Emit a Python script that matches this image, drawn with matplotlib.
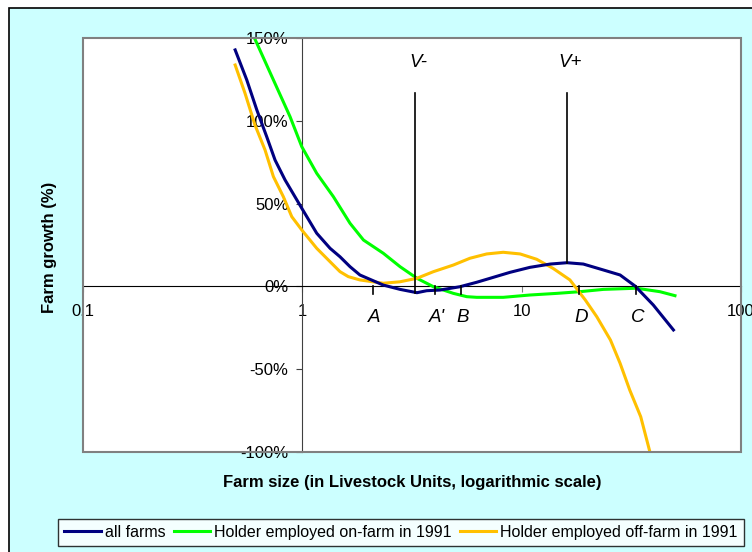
import numpy as np
import matplotlib
matplotlib.use("Agg")
import matplotlib.pyplot as plt
from matplotlib.patches import Rectangle
from matplotlib.ticker import FixedLocator, NullLocator

plt.rcParams['font.family'] = ['Liberation Sans', 'DejaVu Sans']

# farm size (LU) vs farm growth (%)
size_all = [0.494, 0.558, 0.620, 0.688, 0.751, 0.834, 0.994, 1.163, 1.338, 1.485, 1.65,
            1.83, 2.34, 2.79, 3.33, 3.69, 4.24, 5.23, 6.24, 7.18, 8.85, 10.9, 13.5,
            16.1, 19.1, 23.6, 28.1, 32.9, 39.8, 49.2]
growth_all = [142.8, 124.7, 106.6, 90.4, 76.3, 64.3, 47.2, 32.1, 23, 17.9, 11.9,
              6.9, 0.8, -1.8, -3.8, -2.6, -2.2, -0.2, 2.5, 4.9, 8.5, 11.5, 13.5,
              14.3, 13.5, 9.9, 6.9, 0.2, -11.2, -26.3]

size_on = [0.605, 0.738, 0.879, 0.994, 1.163, 1.385, 1.65, 1.90, 2.34, 2.79, 3.33,
           3.96, 4.88, 5.62, 6.24, 8.24, 10.9, 14.5, 18.4, 23.6, 33.4, 42.7, 50.0]
growth_on = [150, 124.7, 102.5, 84.4, 68.3, 54.2, 38.1, 28, 20, 11.9, 4.9,
             -0.2, -4.2, -6.2, -6.6, -6.6, -5.2, -4.2, -3.2, -1.8, -1.1, -3.2, -5.6]

size_off = [0.494, 0.548, 0.608, 0.676, 0.738, 0.819, 0.895, 0.994, 1.163, 1.338, 1.485,
            1.62, 1.83, 2.34, 2.79, 3.33, 3.96, 4.88, 5.81, 6.93, 8.24, 9.84, 11.7,
            13.9, 16.6, 19.5, 22.0, 25.4, 28.1, 31.1, 34.9, 38.4]
growth_off = [133.7, 116.6, 97.5, 82.4, 66.3, 54.2, 42.1, 34.1, 23, 14.9, 8.9,
              5.9, 3.9, 1.9, 2.8, 4.9, 8.9, 12.9, 17, 19.6, 20.6, 19.6, 16.4,
              10.9, 3.9, -8.2, -18.3, -32.4, -46.4, -62.6, -78.7, -99.8]

# thresholds marked on the x axis
point_names = ["A", "A'", "B", "D", "C"]
point_sizes = [2.09, 4.04, 5.29, 18.3, 33.3]
peak_names = ["V-", "V+"]
peak_sizes = [3.27, 16.1]
peak_growth = [-4.0, 14.3]

x_ticks = [0.1, 1, 10, 100]
y_ticks = [-100, -50, 0, 50, 100, 150]

fig = plt.figure(figsize=(7.52, 5.52), dpi=100)
fig.patch.set_facecolor('white')
fig.patches.append(Rectangle((9 / 752, -0.01), 1.0, (552 - 8) / 552 + 0.01,
                             transform=fig.transFigure, facecolor='#CCFFFF',
                             edgecolor='black', linewidth=1.2, zorder=-10))

ax = fig.add_axes([83 / 752, 1 - 452 / 552, 658 / 752, 414 / 552])
ax.set_facecolor('white')
ax.set_xscale('log')
ax.set_xlim(0.1, 100)
ax.set_ylim(-100, 150)

l1, = ax.plot(size_all, growth_all, color='#000080', lw=2.2, zorder=4)
l2, = ax.plot(size_on, growth_on, color='#00FF00', lw=2.2, zorder=3)
l3, = ax.plot(size_off, growth_off, color='#FFC000', lw=2.2, zorder=3)

# axes crossing at x=1 and y=0
ax.spines['left'].set_position(('data', 1))
ax.spines['bottom'].set_position(('data', 0))
ax.spines['left'].set_color('#404040')
ax.spines['bottom'].set_color('black')
ax.spines['top'].set_visible(False)
ax.spines['right'].set_visible(False)
ax.add_patch(Rectangle((0, 0), 1, 1, transform=ax.transAxes, fill=False,
                       edgecolor='#808080', linewidth=1.5, zorder=5, clip_on=False))

ax.xaxis.set_major_locator(FixedLocator(x_ticks))
ax.xaxis.set_minor_locator(NullLocator())
ax.set_xticklabels(['0.1', '1', '10', '100'])
ax.set_yticks(y_ticks)
ax.set_yticklabels([f'{v}%' for v in y_ticks])
ax.tick_params(axis='x', direction='out', length=4, color='#808080', pad=9, labelsize=12)
ax.tick_params(axis='y', direction='out', length=4, color='#404040', pad=6, labelsize=12)

for name, xs in zip(point_names, point_sizes):
    ax.plot([xs, xs], [0, -4.5], color='black', lw=1.2, zorder=6)
    ax.text(xs * 1.02, -19, name, ha='center', va='center', fontsize=13.5, style='italic')

for name, xs, yg in zip(peak_names, peak_sizes, peak_growth):
    ax.plot([xs, xs], [117, yg], color='black', lw=1.2, zorder=6)
    ax.text(xs * 1.03, 135, name, ha='center', va='center', fontsize=13.5, style='italic')

fig.text(50 / 752, 1 - 247 / 552, 'Farm growth (%)', rotation=90, ha='center', va='center',
         fontsize=12, fontweight='bold')
fig.text(412 / 752, 1 - 482 / 552, 'Farm size (in Livestock Units, logarithmic scale)',
         ha='center', va='center', fontsize=12, fontweight='bold')

leg = fig.legend([l1, l2, l3], ['all farms', 'Holder employed on-farm in 1991',
                                 'Holder employed off-farm in 1991'],
                 loc='center', bbox_to_anchor=(401 / 752, 1 - 532.5 / 552), ncol=3,
                 fontsize=11.5, frameon=True, fancybox=False, edgecolor='black',
                 handlelength=2.3, handletextpad=0.25, columnspacing=0.5,
                 borderpad=0.4, borderaxespad=0)
leg.get_frame().set_linewidth(1.0)

fig.savefig('out.png', dpi=100)
